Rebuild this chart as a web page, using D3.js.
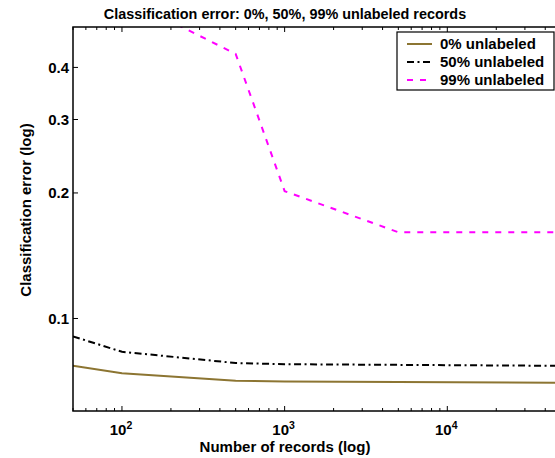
<!DOCTYPE html>
<html>
<head>
<meta charset="utf-8">
<script src="https://cdn.jsdelivr.net/npm/d3@7"></script>
<style>
  body { margin: 0; background: #fff; }
  text { font-family: "Liberation Sans", Arial, Helvetica, sans-serif; font-weight: bold; fill: #000; }
</style>
</head>
<body>
<div class="chart"></div>
<script>
var svgWidth = 555;
var svgHeight = 458;

var margin = { top: 27, right: -6, bottom: 47, left: 73 };
var width = svgWidth - margin.left - margin.right;
var height = svgHeight - margin.top - margin.bottom;

// data
var records = [50, 100, 500, 1000, 5000, 50000];
var err0 = [0.0770, 0.0739, 0.0709, 0.0706, 0.0704, 0.0701];
var err50 = [0.0906, 0.0832, 0.0782, 0.0777, 0.0774, 0.0770];
var err99 = [0.68, 0.59, 0.431, 0.202, 0.161, 0.161];

var seriesNames = ["0% unlabeled", "50% unlabeled", "99% unlabeled"];
var xMajor = [100, 1000, 10000];
var xExp = ["2", "3", "4"];
var yTicks = [0.1, 0.2, 0.3, 0.4];
var yLabels = ["0.1", "0.2", "0.3", "0.4"];

var series = [
  { name: seriesNames[0], values: err0, color: "#8c7532", dash: null },
  { name: seriesNames[1], values: err50, color: "#000000", dash: "7,3.5,2,3.5" },
  { name: seriesNames[2], values: err99, color: "#ff00ff", dash: "6,7" }
];

var svg = d3.select(".chart")
  .append("svg")
  .attr("width", svgWidth)
  .attr("height", svgHeight);

var chartGroup = svg.append("g")
  .attr("transform", `translate(${margin.left}, ${margin.top})`);

var x = d3.scaleLog().domain([50, 50000]).range([0, width]);
var y = d3.scaleLog().domain([0.06, 0.5]).range([height, 0]);

chartGroup.append("clipPath")
  .attr("id", "plot-clip")
  .append("rect")
  .attr("width", width)
  .attr("height", height);

// lines
var line = d3.line()
  .x(d => x(d[0]))
  .y(d => y(d[1]));

chartGroup.append("g")
  .attr("clip-path", "url(#plot-clip)")
  .selectAll("path")
  .data(series)
  .enter()
  .append("path")
  .attr("d", s => line(records.map((r, i) => [r, s.values[i]])))
  .attr("fill", "none")
  .attr("stroke", s => s.color)
  .attr("stroke-width", 2)
  .attr("stroke-dasharray", s => s.dash);

// axes, ticks pointing inward like matlab
var xMinor = x.ticks().filter(t => xMajor.indexOf(t) < 0);

function xAxisGroup(ypos, dir) {
  var g = chartGroup.append("g").attr("transform", `translate(0, ${ypos})`);
  g.selectAll("line.minor")
    .data(xMinor)
    .enter()
    .append("line")
    .attr("x1", d => x(d)).attr("x2", d => x(d))
    .attr("y1", 0).attr("y2", dir * 3)
    .attr("stroke", "#000").attr("stroke-width", 1);
  g.selectAll("line.major")
    .data(xMajor)
    .enter()
    .append("line")
    .attr("x1", d => x(d)).attr("x2", d => x(d))
    .attr("y1", 0).attr("y2", dir * 5)
    .attr("stroke", "#000").attr("stroke-width", 1);
  return g;
}
xAxisGroup(height, -1);
xAxisGroup(0, 1);

function yAxisGroup(xpos, dir) {
  var g = chartGroup.append("g");
  g.selectAll("line")
    .data(yTicks)
    .enter()
    .append("line")
    .attr("x1", xpos).attr("x2", xpos + dir * 5)
    .attr("y1", d => y(d)).attr("y2", d => y(d))
    .attr("stroke", "#000").attr("stroke-width", 1);
  return g;
}
yAxisGroup(0, 1);
yAxisGroup(width, -1);

// frame
chartGroup.append("rect")
  .attr("width", width)
  .attr("height", height)
  .attr("fill", "none")
  .attr("stroke", "#000")
  .attr("stroke-width", 1.5);

// tick labels
chartGroup.selectAll("text.ylab")
  .data(yTicks)
  .enter()
  .append("text")
  .attr("x", -4)
  .attr("y", d => y(d))
  .attr("dy", "0.36em")
  .attr("text-anchor", "end")
  .style("font-size", "15px")
  .text((d, i) => yLabels[i]);

var xl = chartGroup.selectAll("text.xlab")
  .data(xMajor)
  .enter()
  .append("text")
  .attr("x", d => x(d) - 1)
  .attr("y", height + 23.5)
  .attr("text-anchor", "middle")
  .style("font-size", "15px");
xl.append("tspan").text("10");
xl.append("tspan")
  .attr("dy", -6)
  .style("font-size", "10.5px")
  .text((d, i) => xExp[i]);

// titles
svg.append("text")
  .attr("x", 285)
  .attr("y", 19)
  .attr("text-anchor", "middle")
  .style("font-size", "14.4px")
  .text("Classification error: 0%, 50%, 99% unlabeled records");

svg.append("text")
  .attr("x", 285)
  .attr("y", 452)
  .attr("text-anchor", "middle")
  .style("font-size", "15px")
  .text("Number of records (log)");

svg.append("text")
  .attr("transform", "translate(31, 210) rotate(-90)")
  .attr("text-anchor", "middle")
  .style("font-size", "15px")
  .text("Classification error (log)");

// legend
var legend = svg.append("g").attr("transform", "translate(397, 32)");
legend.append("rect")
  .attr("width", 157)
  .attr("height", 58)
  .attr("fill", "#fff")
  .attr("stroke", "#000")
  .attr("stroke-width", 1.2);

var rows = legend.selectAll("g.row")
  .data(series)
  .enter()
  .append("g")
  .attr("transform", (d, i) => `translate(0, ${12 + i * 18})`);

rows.append("line")
  .attr("x1", 10).attr("x2", 35)
  .attr("y1", 0).attr("y2", 0)
  .attr("stroke", d => d.color)
  .attr("stroke-width", 2)
  .attr("stroke-dasharray", d => d.dash);

rows.append("text")
  .attr("x", 43)
  .attr("y", 0)
  .attr("dy", "0.35em")
  .style("font-size", "15px")
  .text(d => d.name);
</script>
</body>
</html>
